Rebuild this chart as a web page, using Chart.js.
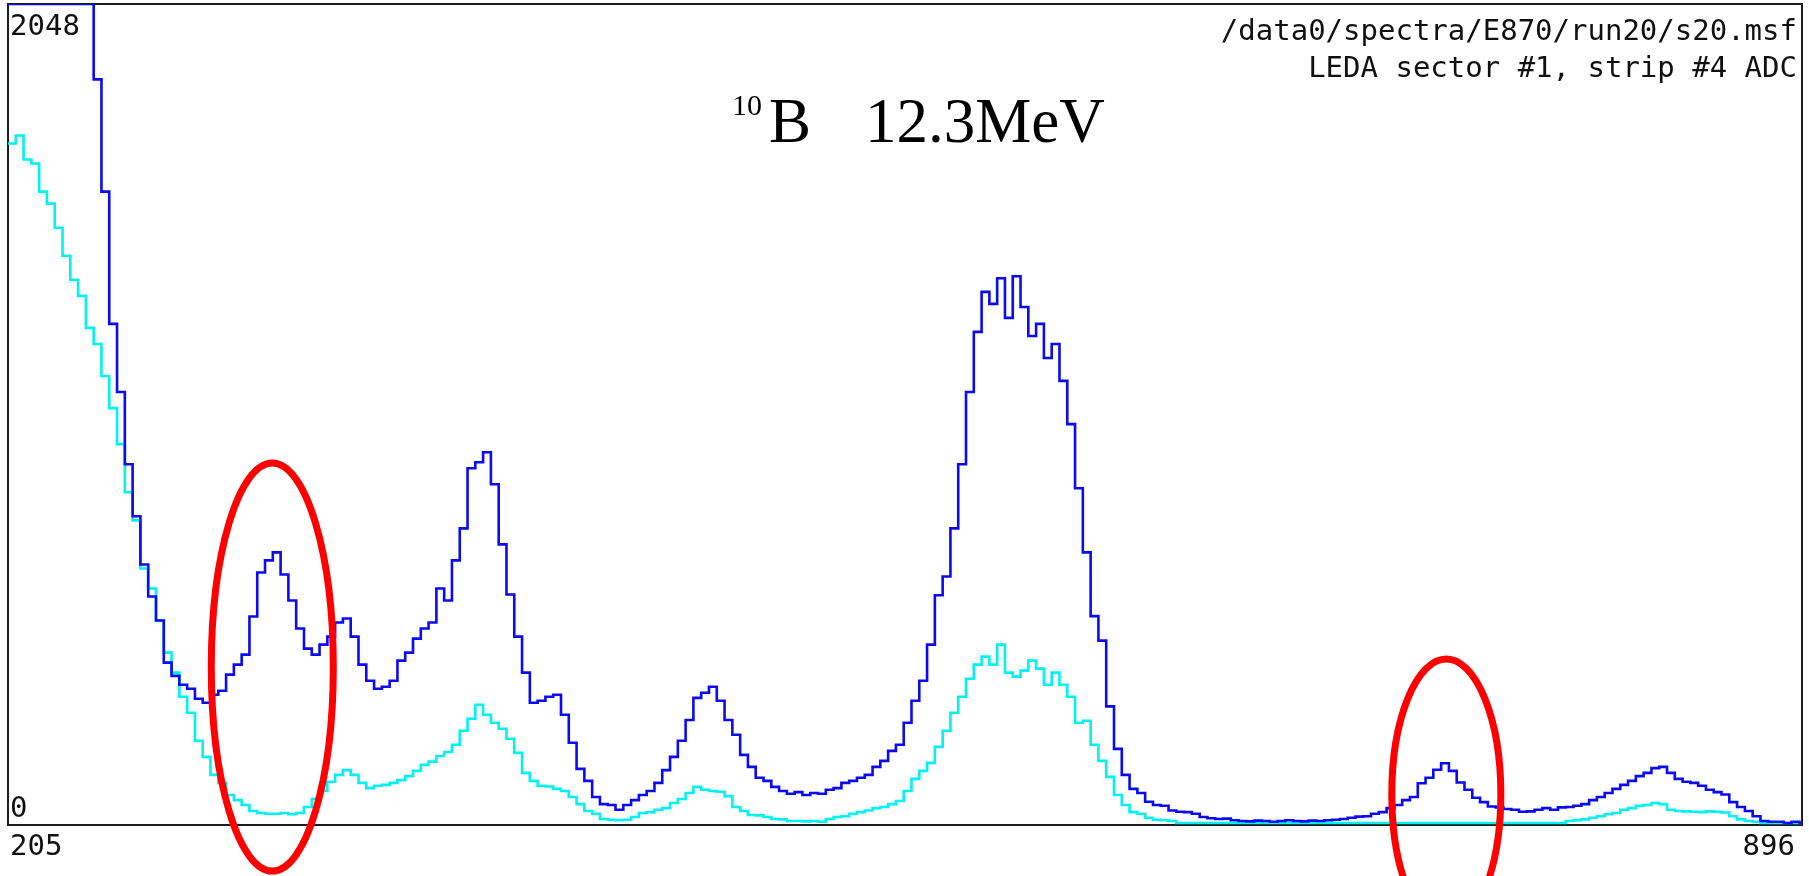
<!DOCTYPE html>
<html>
<head>
<meta charset="utf-8">
<title>LEDA sector #1, strip #4 ADC</title>
<script src="https://cdn.jsdelivr.net/npm/chart.js@4/dist/chart.umd.min.js"></script>
<style>
  html, body { margin: 0; padding: 0; background: #ffffff; }
  #wrap { position: relative; width: 1809px; height: 876px; }
</style>
</head>
<body>
<div id="wrap"><canvas id="spectrum"></canvas></div>
<script>
// ADC spectrum, 3-channel bins starting at channel 205
const FIRST_CHANNEL = 205;
const BIN_WIDTH = 3;

// counts per bin, singles (blue)
const blueCounts = [
  2048, 2048, 2048, 2048, 2048, 2048, 2048, 2048, 2048, 2048,
  2048, 1860, 1580, 1250, 1080, 900, 770, 650, 570, 510,
  405, 372, 350, 340, 315, 305, 325, 335, 375, 400,
  425, 520, 630, 660, 680, 625, 560, 490, 440, 425,
  450, 470, 505, 515, 470, 400, 360, 340, 345, 360,
  410, 430, 465, 490, 505, 590, 560, 660, 740, 890,
  905, 930, 850, 700, 575, 470, 380, 305, 310, 320,
  325, 275, 205, 140, 110, 70, 52, 50, 38, 50,
  62, 75, 85, 105, 137, 170, 210, 262, 317, 330,
  345, 310, 262, 225, 175, 145, 118, 110, 95, 85,
  78, 82, 75, 80, 78, 88, 92, 105, 110, 118,
  125, 145, 160, 185, 200, 255, 310, 360, 450, 573,
  620, 740, 900, 1080, 1230, 1330, 1300, 1364, 1265, 1369,
  1292, 1220, 1250, 1165, 1200, 1108, 1000, 840, 680, 521,
  460, 296, 190, 125, 90, 80, 58, 50, 48, 36,
  33, 32, 28, 20, 17, 15, 16, 12, 10, 9,
  11, 10, 8, 10, 12, 10, 9, 11, 10, 12,
  13, 15, 18, 21, 22, 28, 32, 42, 50, 62,
  70, 104, 118, 138, 154, 135, 106, 88, 68, 57,
  46, 44, 40, 38, 33, 34, 38, 42, 38, 44,
  45, 48, 52, 62, 70, 80, 90, 100, 110, 122,
  130, 142, 145, 130, 115, 108, 105, 98, 88, 82,
  76, 57, 45, 35, 22, 10, 8, 8, 5, 8,
  5
];

// counts per bin, gated (cyan)
const cyanCounts = [
  1700, 1720, 1660, 1650, 1580, 1550, 1490, 1420, 1360, 1320,
  1240, 1200, 1120, 1040, 950, 830, 760, 640, 590, 510,
  430, 380, 320, 280, 210, 170, 125, 105, 75, 62,
  50, 35, 30, 28, 28, 30, 27, 30, 45, 65,
  85, 108, 125, 137, 125, 105, 92, 98, 100, 105,
  112, 122, 135, 150, 158, 172, 182, 200, 235, 265,
  300, 275, 255, 240, 215, 180, 130, 110, 98, 96,
  90, 85, 70, 52, 35, 28, 15, 13, 12, 13,
  20, 30, 32, 38, 42, 55, 65, 80, 95, 88,
  85, 83, 72, 45, 35, 25, 24, 20, 15, 14,
  10, 10, 9, 10, 8, 15, 20, 22, 28, 32,
  36, 42, 45, 52, 60, 85, 115, 135, 155, 195,
  235, 280, 320, 365, 400, 420, 400, 450, 380, 370,
  385, 410, 390, 350, 380, 350, 320, 255, 260, 200,
  160, 120, 75, 50, 32, 28, 18, 13, 12, 10,
  5, 5, 5, 5, 5, 5, 5, 5, 5, 5,
  5, 5, 5, 5, 5, 5, 5, 5, 5, 5,
  5, 5, 5, 5, 5, 5, 5, 5, 5, 5,
  5, 5, 5, 5, 5, 5, 5, 5, 5, 5,
  5, 5, 5, 5, 5, 5, 5, 5, 5, 5,
  10, 12, 14, 18, 22, 27, 30, 38, 42, 48,
  50, 55, 52, 38, 35, 34, 33, 32, 34, 33,
  31, 22, 14, 10, 8, 5, 5, 5, 5, 5,
  5
];

// bin start channels
const channels = blueCounts.map((_, i) => FIRST_CHANNEL + i * BIN_WIDTH);

// axis range and corner labels
const xRange = [205, 896];
const yRange = [0, 2048];
const xTickLabels = ['205', '896'];
const yTickLabels = ['0', '2048'];

const headerLines = ['/data0/spectra/E870/run20/s20.msf', 'LEDA sector #1, strip #4 ADC'];
const titleMass = '10';
const titleNucleus = 'B';
const titleEnergy = '12.3MeV';

// histogram outline: each bin holds its value up to the next bin edge
function histogramPoints(values) {
  const pts = values.map((v, i) => ({ x: channels[i], y: v }));
  const last = values.length - 1;
  pts.push({ x: channels[last] + BIN_WIDTH, y: values[last] });
  return pts;
}

const MONO = '29px "DejaVu Sans Mono", monospace';

const framePlugin = {
  id: 'frame',
  beforeDatasetsDraw(chart) {
    const { ctx, chartArea: a } = chart;
    ctx.save();
    ctx.strokeStyle = '#1c1c1c';
    ctx.lineWidth = 2;
    ctx.strokeRect(a.left, a.top, a.right - a.left, a.bottom - a.top);
    ctx.restore();
  }
};

const labelsPlugin = {
  id: 'labels',
  afterDraw(chart) {
    const { ctx, chartArea: a } = chart;
    const xs = chart.scales.x, ys = chart.scales.y;
    ctx.save();
    ctx.fillStyle = '#111111';
    ctx.font = MONO;
    ctx.textBaseline = 'alphabetic';

    // corner tick labels
    ctx.textAlign = 'left';
    ctx.fillText(yTickLabels[1], xs.getPixelForValue(xRange[0]) + 2, ys.getPixelForValue(yRange[1]) + 31);
    ctx.fillText(yTickLabels[0], xs.getPixelForValue(xRange[0]) + 2, ys.getPixelForValue(yRange[0]) - 8);
    ctx.fillText(xTickLabels[0], xs.getPixelForValue(xRange[0]) + 2, a.bottom + 30);
    ctx.textAlign = 'right';
    ctx.fillText(xTickLabels[1], xs.getPixelForValue(xRange[1]) - 7, a.bottom + 30);

    // file / detector header
    ctx.fillText(headerLines[0], a.right - 5, 40);
    ctx.fillText(headerLines[1], a.right - 5, 77);

    // reaction label
    ctx.textAlign = 'left';
    ctx.fillStyle = '#000000';
    ctx.font = '30px "Liberation Serif", "Times New Roman", serif';
    ctx.fillText(titleMass, 732, 115);
    ctx.font = '63px "Liberation Serif", "Times New Roman", serif';
    ctx.fillText(titleNucleus, 769, 142);
    ctx.fillText(titleEnergy, 865, 142);
    ctx.restore();
  }
};

// red rings around the marked peaks, given in channel / count units
const ringsPlugin = {
  id: 'rings',
  afterDraw(chart, args, opts) {
    const { ctx } = chart;
    const xs = chart.scales.x, ys = chart.scales.y;
    ctx.save();
    ctx.strokeStyle = opts.color;
    ctx.lineWidth = opts.width;
    for (const r of opts.rings) {
      const cx = xs.getPixelForValue(r.channel);
      const cy = ys.getPixelForValue(r.counts);
      const rx = Math.abs(xs.getPixelForValue(r.channel + r.halfChannels) - cx);
      const ry = Math.abs(ys.getPixelForValue(r.counts + r.halfCounts) - cy);
      ctx.beginPath();
      ctx.ellipse(cx, cy, rx, ry, 0, 0, Math.PI * 2);
      ctx.stroke();
    }
    ctx.restore();
  }
};

new Chart(document.getElementById('spectrum'), {
  type: 'line',
  data: {
    datasets: [
      {
        label: 'singles',
        data: histogramPoints(blueCounts),
        borderColor: '#0a0af5',
        borderWidth: 2.6,
        stepped: 'before',
        pointRadius: 0,
        fill: false
      },
      {
        label: 'gated',
        data: histogramPoints(cyanCounts),
        borderColor: '#00f2f2',
        borderWidth: 2.6,
        stepped: 'before',
        pointRadius: 0,
        fill: false
      }
    ]
  },
  options: {
    responsive: true,
    maintainAspectRatio: false,
    animation: false,
    events: [],
    layout: { padding: { left: 8, top: 4, right: 7, bottom: 51 } },
    scales: {
      x: { type: 'linear', min: xRange[0], max: xRange[1], display: false },
      y: { type: 'linear', min: yRange[0], max: yRange[1], display: false }
    },
    plugins: {
      legend: { display: false },
      tooltip: { enabled: false },
      rings: {
        color: '#ff0000',
        width: 7,
        rings: [
          { channel: 306.8, counts: 394, halfChannels: 23.5, halfCounts: 509 },
          { channel: 759, counts: 77, halfChannels: 21, halfCounts: 337 }
        ]
      }
    }
  },
  plugins: [framePlugin, labelsPlugin, ringsPlugin]
});
</script>
</body>
</html>
